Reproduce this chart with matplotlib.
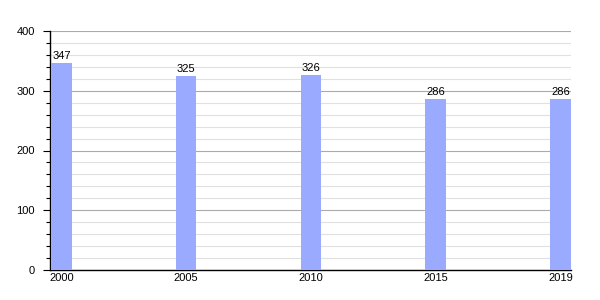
import numpy as np
import matplotlib
matplotlib.use('Agg')
import matplotlib.pyplot as plt
from matplotlib.ticker import MultipleLocator

plt.rcParams['font.family'] = ['Liberation Sans', 'DejaVu Sans']
plt.rcParams['font.size'] = 8

years = ['2000', '2005', '2010', '2015', '2019']
population = [347, 325, 326, 286, 286]

BAR_COLOR = '#99aaff'

fig = plt.figure(figsize=(6, 3), dpi=100)
ax = fig.add_axes([50 / 600, 30 / 300, 521 / 600, 239 / 300])

x = np.arange(len(years))
width = 0.166
ax.bar(x, population, width, align='edge', color=BAR_COLOR, zorder=3)

for xi, v in zip(x, population):
    ax.text(xi + width / 2, v + 3, str(v), ha='center', va='bottom', fontsize=8, zorder=4)

ax.set_xlim(-0.008, 4.168)
ax.set_ylim(0, 400)
ax.set_xticks(x + width / 2)
ax.set_xticklabels(years)
ax.tick_params(axis='x', length=0, pad=2)

ax.yaxis.set_major_locator(MultipleLocator(100))
ax.yaxis.set_minor_locator(MultipleLocator(20))
ax.tick_params(axis='y', which='major', length=5, width=0.8, pad=6)
ax.tick_params(axis='y', which='minor', length=3, width=0.8)

ax.grid(axis='y', which='major', color='#aaaaaa', linewidth=0.8, zorder=1)
ax.grid(axis='y', which='minor', color='#e0e0e0', linewidth=0.8, zorder=1)

for side in ['top', 'right']:
    ax.spines[side].set_visible(False)
ax.spines['left'].set_linewidth(1.0)
ax.spines['bottom'].set_linewidth(1.0)

fig.savefig('out.png', dpi=100)
